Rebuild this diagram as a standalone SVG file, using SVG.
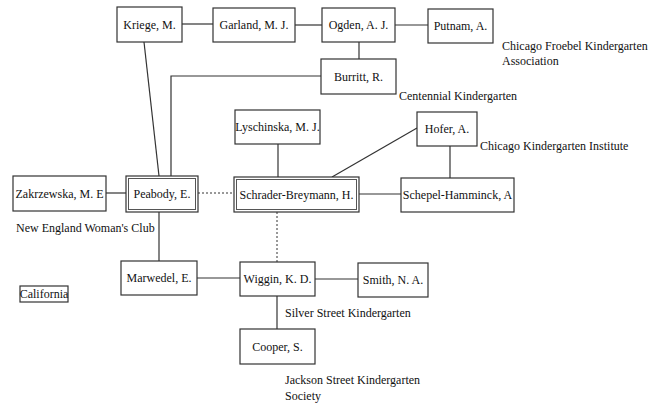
<svg xmlns="http://www.w3.org/2000/svg" width="654" height="403" viewBox="0 0 654 403">
<style>
.box{fill:#fff;stroke:#333;stroke-width:1.2}
.inner{fill:none;stroke:#555;stroke-width:1}
.lbl{font-family:"Liberation Serif",serif;font-size:12px;fill:#111;text-anchor:middle}
.note{font-family:"Liberation Serif",serif;font-size:12px;fill:#111}
.ln{stroke:#333;stroke-width:1.2;fill:none}
.dot{stroke:#333;stroke-width:1;fill:none;stroke-dasharray:2 2}
</style>
<rect width="654" height="403" fill="#fff"/>
<g id="connectors">
<line class="ln" x1="182" y1="24" x2="213" y2="24"/>
<line class="ln" x1="295" y1="25" x2="322" y2="25"/>
<line class="ln" x1="395" y1="25" x2="428" y2="25"/>
<line class="ln" x1="359" y1="42" x2="359" y2="59"/>
<polyline class="ln" points="321,76 171,76 171,176"/>
<line class="ln" x1="144" y1="42" x2="159" y2="176"/>
<line class="ln" x1="278" y1="144" x2="278" y2="177"/>
<line class="ln" x1="417" y1="128" x2="332" y2="177"/>
<line class="ln" x1="450" y1="146" x2="450" y2="178"/>
<line class="ln" x1="106" y1="193" x2="126" y2="193"/>
<line class="dot" x1="198" y1="193" x2="234" y2="193"/>
<line class="ln" x1="359" y1="194" x2="401" y2="194"/>
<line class="ln" x1="159" y1="212" x2="159" y2="261"/>
<line class="dot" x1="277" y1="212" x2="277" y2="262"/>
<line class="ln" x1="197" y1="278" x2="240" y2="278"/>
<line class="ln" x1="315" y1="279" x2="358" y2="279"/>
<line class="ln" x1="277" y1="296" x2="277" y2="329"/>
</g>
<g id="kriege"><rect class="box" x="117" y="7" width="65" height="35"/><text class="lbl" x="149.5" y="29">Kriege, M.</text></g>
<g id="garland"><rect class="box" x="213" y="8" width="82" height="34"/><text class="lbl" x="254" y="29">Garland, M. J.</text></g>
<g id="ogden"><rect class="box" x="322" y="8" width="73" height="34"/><text class="lbl" x="358.5" y="29">Ogden, A. J.</text></g>
<g id="putnam"><rect class="box" x="428" y="9" width="65" height="34"/><text class="lbl" x="460.5" y="30">Putnam, A.</text></g>
<g id="burritt"><rect class="box" x="321" y="59" width="75" height="35"/><text class="lbl" x="358.5" y="81">Burritt, R.</text></g>
<g id="lyschinska"><rect class="box" x="235" y="110" width="85" height="34"/><text class="lbl" x="277.5" y="131">Lyschinska, M. J.</text></g>
<g id="hofer"><rect class="box" x="417" y="112" width="60" height="34"/><text class="lbl" x="447" y="133">Hofer, A.</text></g>
<g id="zakrzewska"><rect class="box" x="13" y="176" width="93" height="35"/><text class="lbl" x="59.5" y="198">Zakrzewska, M. E</text></g>
<g id="peabody"><rect class="box" x="126" y="176" width="72" height="36" stroke-width="1.6"/><rect class="inner" x="128.5" y="178.5" width="67" height="31"/><text class="lbl" x="162" y="198">Peabody, E.</text></g>
<g id="schrader"><rect class="box" x="234" y="177" width="125" height="35" stroke-width="1.6"/><rect class="inner" x="236.5" y="179.5" width="120" height="30"/><text class="lbl" x="296.5" y="199">Schrader-Breymann, H.</text></g>
<g id="schepel"><rect class="box" x="401" y="178" width="113" height="34"/><text class="lbl" x="457.5" y="199">Schepel-Hamminck, A</text></g>
<g id="marwedel"><rect class="box" x="121" y="261" width="76" height="34"/><text class="lbl" x="159" y="282">Marwedel, E.</text></g>
<g id="wiggin"><rect class="box" x="240" y="262" width="75" height="34"/><text class="lbl" x="277.5" y="283">Wiggin, K. D.</text></g>
<g id="smith"><rect class="box" x="358" y="263" width="70" height="34"/><text class="lbl" x="393" y="284">Smith, N. A.</text></g>
<g id="cooper"><rect class="box" x="240" y="329" width="75" height="35"/><text class="lbl" x="277.5" y="351">Cooper, S.</text></g>
<g id="california"><rect class="box" x="20" y="286" width="48" height="16" stroke-width="1"/><text class="lbl" x="44" y="298" font-size="11px">California</text></g>
<g id="notes">
<text class="note" x="502" y="50">Chicago Froebel Kindergarten</text>
<text class="note" x="502" y="65">Association</text>
<text class="note" x="399" y="100">Centennial Kindergarten</text>
<text class="note" x="480" y="150">Chicago Kindergarten Institute</text>
<text class="note" x="16" y="232">New England Woman's Club</text>
<text class="note" x="285" y="317">Silver Street Kindergarten</text>
<text class="note" x="285" y="384">Jackson Street Kindergarten</text>
<text class="note" x="285" y="400">Society</text>
</g>
</svg>
